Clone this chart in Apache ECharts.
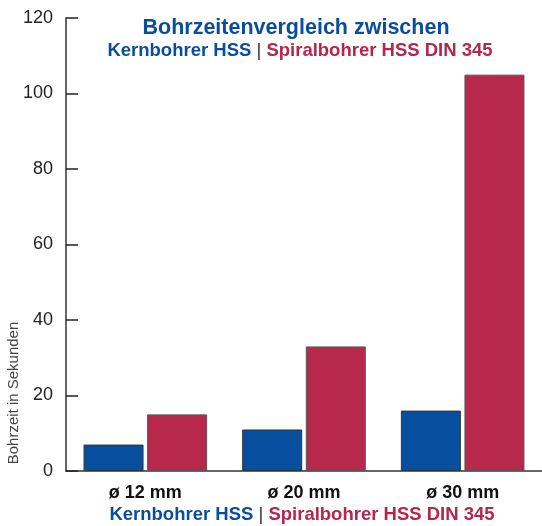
<!DOCTYPE html>
<html>
<head>
<meta charset="utf-8">
<script src="https://cdn.jsdelivr.net/npm/echarts@6/dist/echarts.min.js"></script>
<style>
  html, body { margin: 0; padding: 0; background: #fff; }
  #chart { width: 542px; height: 526px; }
</style>
</head>
<body>
<div id="chart"></div>
<script>
// Bohrzeiten in Sekunden
var categories = ['ø 12 mm', 'ø 20 mm', 'ø 30 mm'];
var kernbohrer = [7, 11, 16];
var spiralbohrer = [15, 33, 105];
var yTicks = [0, 20, 40, 60, 80, 100, 120];

var BLUE = '#064f9f';
var RED = '#b8284b';
var FONT = '"Liberation Sans", Arial, Helvetica, sans-serif';

var chart = echarts.init(document.getElementById('chart'));

var legendRich = {
    b: { fill: '#0a4d9c', fontSize: 18.5, fontWeight: 'bold', fontFamily: FONT },
    s: { fill: '#333', fontSize: 18.5, fontWeight: 'normal', fontFamily: FONT },
    r: { fill: '#b5264b', fontSize: 18.5, fontWeight: 'bold', fontFamily: FONT }
};
var legendText = '{b|Kernbohrer HSS }{s||}{r| Spiralbohrer HSS DIN 345}';

chart.setOption({
    animation: false,
    grid: { left: 66, top: 18, width: 479, height: 453 },
    xAxis: {
        type: 'category',
        data: categories,
        axisLine: { lineStyle: { color: '#333', width: 1.5 } },
        axisTick: { inside: true, length: 10, lineStyle: { color: '#222', width: 1.5 } },
        axisLabel: { fontSize: 18, fontWeight: 'bold', color: '#111', margin: 13, fontFamily: FONT }
    },
    yAxis: {
        type: 'value',
        min: yTicks[0],
        max: yTicks[yTicks.length - 1],
        interval: 20,
        axisLine: { show: true, lineStyle: { color: '#333', width: 1.5 } },
        axisTick: { show: true, inside: true, length: 12, lineStyle: { color: '#222', width: 1.5 } },
        axisLabel: { fontSize: 18, color: '#222', margin: 13, fontFamily: FONT },
        splitLine: { show: false }
    },
    series: [
        {
            name: 'Kernbohrer HSS',
            type: 'bar',
            data: kernbohrer,
            barWidth: 60,
            barGap: '6%',
            itemStyle: { color: BLUE, borderColor: '#333', borderWidth: 1 }
        },
        {
            name: 'Spiralbohrer HSS DIN 345',
            type: 'bar',
            data: spiralbohrer,
            barWidth: 60,
            itemStyle: { color: RED, borderColor: '#555', borderWidth: 1 }
        }
    ],
    graphic: [
        {
            type: 'text', x: 296, y: 28,
            style: {
                text: 'Bohrzeitenvergleich zwischen',
                fill: '#0a4d9c', font: 'bold 21.5px ' + FONT,
                align: 'center', verticalAlign: 'middle'
            }
        },
        {
            type: 'text', x: 300, y: 51,
            style: { text: legendText, rich: legendRich, align: 'center', verticalAlign: 'middle' }
        },
        {
            type: 'text', x: 302, y: 515,
            style: { text: legendText, rich: legendRich, align: 'center', verticalAlign: 'middle' }
        },
        {
            type: 'text', x: 14, y: 393, rotation: Math.PI / 2,
            style: {
                text: 'Bohrzeit in Sekunden',
                fill: '#444', font: '15px ' + FONT,
                align: 'center', verticalAlign: 'middle'
            }
        }
    ]
});
</script>
</body>
</html>
